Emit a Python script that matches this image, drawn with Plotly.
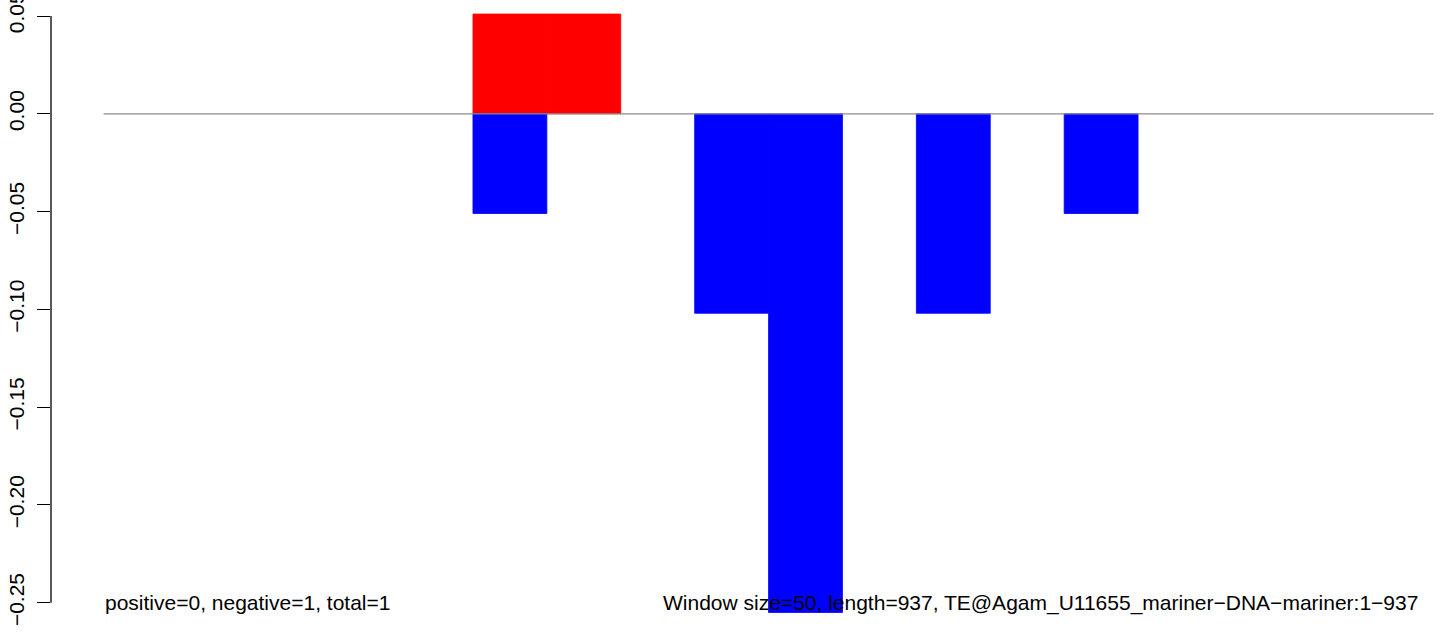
import plotly.graph_objects as go

# Sliding-window scores along the element (window size 50, length 937)
window_size = 50
window_starts = [0, 50, 100, 150, 200, 250, 300, 350, 400, 450,
                 500, 550, 600, 650, 700, 750, 800, 850, 900]
positive_scores = [0, 0, 0, 0, 0, 0.051, 0.051, 0, 0, 0,
                   0, 0, 0, 0, 0, 0, 0, 0, 0]
negative_scores = [0, 0, 0, 0, 0, -0.051, 0, 0, -0.102, -0.255,
                   0, -0.102, 0, -0.051, 0, 0, 0, 0, 0]

y_ticks = [0.05, 0.00, -0.05, -0.10, -0.15, -0.20, -0.25]
left_note = "positive=0, negative=1, total=1"
right_note = "Window size=50, length=937, TE@Agam_U11655_mariner\u2212DNA\u2212mariner:1\u2212937"

centers = [s + window_size / 2 for s in window_starts]

FONT = "Liberation Sans, Arial, Helvetica, sans-serif"
RED = "#ff0000"
BLUE = "#0000ff"


def seam_widths(values):
    # thin same-colour outline on non-empty windows so adjacent bars join cleanly
    return [0.8 if v != 0 else 0 for v in values]


fig = go.Figure()
fig.add_trace(go.Bar(x=centers, y=positive_scores, width=window_size,
                     marker=dict(color=RED,
                                 line=dict(width=seam_widths(positive_scores), color=RED)),
                     showlegend=False, hoverinfo="skip"))
fig.add_trace(go.Bar(x=centers, y=negative_scores, width=window_size,
                     marker=dict(color=BLUE,
                                 line=dict(width=seam_widths(negative_scores), color=BLUE)),
                     showlegend=False, hoverinfo="skip"))

# zero baseline across the windows
fig.add_shape(type="line", xref="x", yref="y",
              x0=window_starts[0], x1=window_starts[-1], y0=0, y1=0,
              line=dict(color="#8c8c8c", width=1.2), layer="above")

# y axis line spanning the tick range only
fig.add_shape(type="line", xref="paper", yref="y",
              x0=0, x1=0, y0=min(y_ticks), y1=max(y_ticks),
              line=dict(color="black", width=1.3), layer="above")

fig.add_annotation(x=0, y=-0.25, xref="x", yref="y", text=left_note,
                   showarrow=False, xanchor="left", yanchor="middle",
                   font=dict(family=FONT, size=21, color="black"))
fig.add_annotation(x=891, y=-0.25, xref="x", yref="y", text=right_note,
                   showarrow=False, xanchor="right", yanchor="middle",
                   font=dict(family=FONT, size=21, color="black"))

fig.update_layout(
    width=1444, height=634,
    margin=dict(l=51, r=0, t=0, b=0, autoexpand=False),
    paper_bgcolor="white", plot_bgcolor="white",
    barmode="overlay",
    xaxis=dict(range=[-35.5, 907], visible=False, showgrid=False, zeroline=False,
               automargin=False),
    yaxis=dict(range=[-0.26601, 0.05818], tickvals=y_ticks, tickformat=".2f",
               tickangle=-90, ticks="outside", ticklen=13, tickwidth=1.3,
               tickcolor="black", showgrid=False, zeroline=False, showline=False,
               ticklabeloverflow="allow", automargin=False, ticklabelstandoff=5,
               tickfont=dict(family=FONT, size=21, color="black")),
)

fig.write_html("out.html")
